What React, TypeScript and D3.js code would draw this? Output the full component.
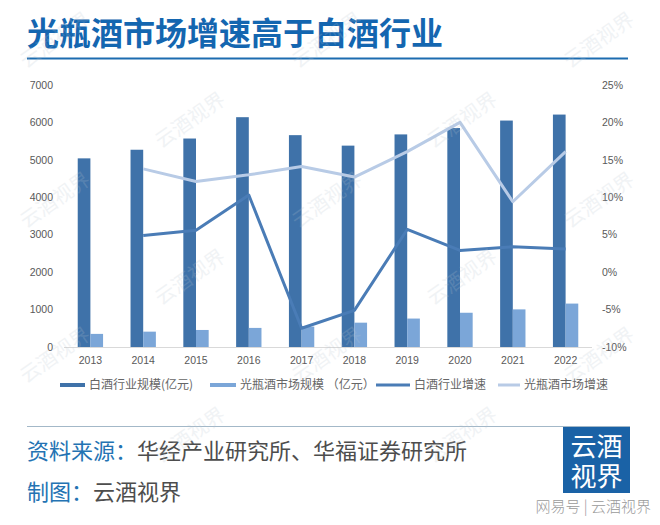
import React from "react";
import * as d3 from "d3";

const years = ["2013", "2014", "2015", "2016", "2017", "2018", "2019", "2020", "2021", "2022"];
// 白酒行业规模(亿元)
const baijiuScale = [5040, 5270, 5570, 6140, 5660, 5380, 5680, 5850, 6050, 6210];
// 光瓶酒市场规模(亿元)
const guangpingScale = [350, 410, 455, 510, 545, 650, 760, 915, 1005, 1160];
// growth rates (%), 2013 has none
const baijiuGrowth = [null, 4.9, 5.6, 10.3, -7.5, -5.1, 5.7, 2.9, 3.4, 3.1];
const guangpingGrowth = [null, 13.8, 12.1, 13.0, 14.1, 12.7, 16.1, 20.0, 9.4, 16.1];
const leftTicks = [0, 1000, 2000, 3000, 4000, 5000, 6000, 7000];
const rightTicks = [-10, -5, 0, 5, 10, 15, 20, 25];

const legendItems = [
  { label: "白酒行业规模(亿元)", kind: "bar", color: "#3f72a9", x: 60, w: 25 },
  { label: "光瓶酒市场规模 （亿元）", kind: "bar", color: "#7ba6d8", x: 210, w: 26 },
  { label: "白酒行业增速", kind: "line", color: "#4a7cb6", x: 376, w: 34 },
  { label: "光瓶酒市场增速", kind: "line", color: "#b8cbe6", x: 498, w: 22 }
];

const COLORS = {
  darkBar: "#3f72a9",
  lightBar: "#7ba6d8",
  darkLine: "#4a7cb6",
  lightLine: "#b8cbe6",
  title: "#1466b0",
  tick: "#595959"
};

const W = 660;
const H = 525;
const plot = { left: 64, right: 592, top: 85, bottom: 347 };

export default function App() {
  const x = d3
    .scaleBand()
    .domain(years)
    .range([plot.left, plot.right])
    .paddingInner(0.52)
    .paddingOuter(0.26);
  const bw = x.bandwidth();
  const yL = d3.scaleLinear().domain([0, 7000]).range([plot.bottom, plot.top]);
  const yR = d3.scaleLinear().domain([-10, 25]).range([plot.bottom, plot.top]);

  const line = d3
    .line<number | null>()
    .defined(d => d !== null)
    .x((d, i) => (x(years[i]) as number) + bw / 2)
    .y(d => yR(d as number));

  // watermark lattice
  const marks: { x: number; y: number }[] = [];
  const rowsY = [40, 120, 200, 277, 355, 435];
  rowsY.forEach((ry, r) => {
    const off = r % 2 === 0 ? 55 : 190;
    for (let cx = off; cx < W; cx += 272) marks.push({ x: cx, y: ry });
  });

  const tickFont = "'Liberation Sans', Arial, sans-serif";
  const cjk = "'Noto Sans CJK SC', sans-serif";

  return (
    <svg width={W} height={H} style={{ position: "absolute", left: 0, top: 0, background: "#fff" }}>
      <rect x={0} y={0} width={W} height={H} fill="#fff" />

      {/* title */}
      <text x={27} y={45} fontFamily={cjk} fontWeight={700} fontSize={32} fill={COLORS.title}>
        光瓶酒市场增速高于白酒行业
      </text>
      <line x1={27} x2={628} y1={58.5} y2={58.5} stroke="#1c6cb0" strokeWidth={2} />

      {/* left axis labels */}
      {leftTicks.map(t => (
        <text key={"l" + t} x={53} y={yL(t)} dy="0.35em" textAnchor="end" fontFamily={tickFont} fontSize={10.5} fill={COLORS.tick}>
          {t}
        </text>
      ))}
      {/* right axis labels */}
      {rightTicks.map(t => (
        <text key={"r" + t} x={602} y={yR(t)} dy="0.35em" fontFamily={tickFont} fontSize={10.5} fill={COLORS.tick}>
          {t + "%"}
        </text>
      ))}

      {/* bars */}
      {years.map((yr, i) => (
        <g key={yr}>
          <rect x={x(yr)} y={yL(baijiuScale[i])} width={bw / 2} height={plot.bottom - yL(baijiuScale[i])} fill={COLORS.darkBar} />
          <rect x={(x(yr) as number) + bw / 2} y={yL(guangpingScale[i])} width={bw / 2} height={plot.bottom - yL(guangpingScale[i])} fill={COLORS.lightBar} />
          <text x={(x(yr) as number) + bw / 2} y={364} textAnchor="middle" fontFamily={tickFont} fontSize={10.5} fill={COLORS.tick}>
            {yr}
          </text>
        </g>
      ))}

      <line x1={plot.left} x2={plot.right} y1={plot.bottom + 0.5} y2={plot.bottom + 0.5} stroke="#d9d9d9" strokeWidth={1} />

      {/* growth lines */}
      <path d={line(guangpingGrowth) || ""} fill="none" stroke={COLORS.lightLine} strokeWidth={3} strokeLinejoin="round" />
      <path d={line(baijiuGrowth) || ""} fill="none" stroke={COLORS.darkLine} strokeWidth={3} strokeLinejoin="round" />

      {/* legend */}
      {legendItems.map(it => (
        <g key={it.label}>
          {it.kind === "bar" ? (
            <rect x={it.x} y={383} width={it.w} height={4} fill={it.color} />
          ) : (
            <line x1={it.x} x2={it.x + it.w} y1={385} y2={385} stroke={it.color} strokeWidth={3} />
          )}
          <text x={it.x + it.w + 4} y={385} dy="0.36em" fontFamily={cjk} fontSize={12} fill="#666">
            {it.label}
          </text>
        </g>
      ))}

      {/* footer */}
      <line x1={27} x2={630} y1={426.5} y2={426.5} stroke="#a3b8c8" strokeWidth={1.2} />
      <text x={27} y={459} fontFamily={cjk} fontSize={22}>
        <tspan fill="#2473b3">资料来源：</tspan>
        <tspan fill="#4d4d4d">华经产业研究所、华福证券研究所</tspan>
      </text>
      <text x={27} y={500} fontFamily={cjk} fontSize={22}>
        <tspan fill="#2473b3">制图：</tspan>
        <tspan fill="#4d4d4d">云酒视界</tspan>
      </text>
      <rect x={563} y={427} width={67} height={66} fill="#1a62a6" />
      <text textAnchor="middle" fontFamily={cjk} fontSize={26} fill="#fff">
        <tspan x={596.5} y={456}>云酒</tspan>
        <tspan x={596.5} y={486}>视界</tspan>
      </text>
      <text x={651} y={512} textAnchor="end" fontFamily={cjk} fontSize={15} fontWeight={300} fill="#9a9a9a">
        网易号 | 云酒视界
      </text>

      {/* watermarks */}
      {marks.map((m, i) => (
        <text
          key={"wm" + i}
          x={m.x}
          y={m.y}
          textAnchor="middle"
          dy="0.35em"
          transform={`rotate(-35 ${m.x} ${m.y})`}
          fontFamily={cjk}
          fontSize={20}
          fill="#b8c4d0"
          opacity={0.2}
        >
          云酒视界
        </text>
      ))}
    </svg>
  );
}
